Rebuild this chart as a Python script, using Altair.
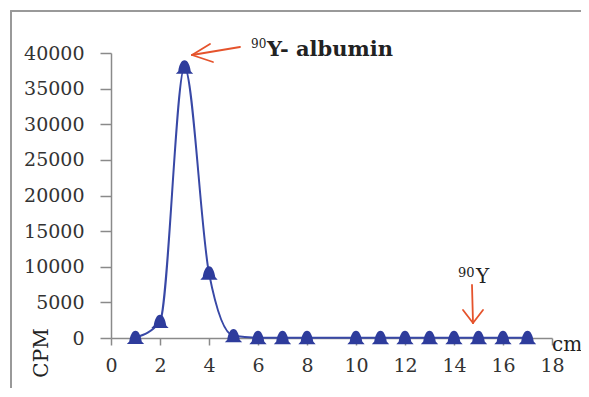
import altair as alt
import pandas as pd

# ---- data ----
cm = [1, 2, 3, 4, 5, 6, 7, 8, 10, 11, 12, 13, 14, 15, 16, 17]
cpm = [60, 2300, 38000, 9100, 300, 50, 50, 50, 50, 50, 50, 50, 50, 50, 50, 50]
x_ticks = list(range(0, 19, 2))
y_ticks = list(range(0, 40001, 5000))

df = pd.DataFrame({"cm": cm, "cpm": cpm})

BLUE_LINE = "#3848A6"
BLUE_MARK = "#2E3C9C"
RED = "#E5532C"
GRAY = "#8A8A8A"
TXT = "#333333"
FONT = "DejaVu Serif"

W, H = 441, 285

xs = alt.Scale(domain=[0, 18], nice=False, zero=False)
ys = alt.Scale(domain=[0, 40000], nice=False)

x_axis = alt.Axis(values=x_ticks, title=None, grid=False, domainColor=GRAY, domainWidth=1.5,
                  tickColor=GRAY, tickWidth=1.5, tickSize=7, labelFont=FONT, labelFontSize=19,
                  labelColor=TXT, labelPadding=11, labelFlush=False, labelOverlap=False,
                  format="d")
y_axis = alt.Axis(values=y_ticks, title=None, grid=False, domainColor=GRAY, domainWidth=1.5,
                  tickColor=GRAY, tickWidth=1.5, tickSize=11, labelFont=FONT, labelFontSize=19,
                  labelColor=TXT, labelPadding=16, labelFlush=False, labelOverlap=False,
                  format="d")

X = alt.X("cm:Q", scale=xs, axis=x_axis)
Y = alt.Y("cpm:Q", scale=ys, axis=y_axis)

base = alt.Chart(df)
line = base.mark_line(interpolate="monotone", color=BLUE_LINE, strokeWidth=2).encode(x=X, y=Y)
DOME = "M-1,0.75 L-0.72,0.45 C-0.62,-0.25 -0.38,-0.8 0,-0.8 C0.38,-0.8 0.62,-0.25 0.72,0.45 L1,0.75 Z"
points = base.mark_point(shape=DOME, filled=True, size=300, color=BLUE_MARK, opacity=1).encode(x=X, y=Y)

one = pd.DataFrame({"k": [0]})


def seg(x1, y1, x2, y2, color, width):
    return alt.Chart(one).mark_rule(color=color, strokeWidth=width, strokeCap="round").encode(
        x=alt.value(x1), y=alt.value(y1), x2=alt.value(x2), y2=alt.value(y2)
    )


def txt(s, x, y, size, align="left", baseline="alphabetic", angle=0, weight="normal"):
    return alt.Chart(one).mark_text(text=s, font=FONT, fontSize=size, color="#222222",
                                    align=align, baseline=baseline, angle=angle,
                                    fontWeight=weight).encode(x=alt.value(x), y=alt.value(y))


layers = [
    # outer frame (top & left)
    seg(-100, -42, -100, 400, "#999999", 2),
    seg(-100, -42, 600, -42, "#999999", 2),
    line,
    points,
    # arrow to the albumin peak
    seg(129, -6, 81, 2, RED, 1.8),
    seg(81, 2, 99, -9, RED, 1.8),
    seg(81, 2, 102, 9, RED, 1.8),
    # arrow to free 90Y
    seg(361, 232, 362, 270, RED, 1.8),
    seg(362, 270, 352, 257, RED, 1.8),
    seg(362, 270, 372, 257, RED, 1.8),
    # texts
    txt("90", 140, -5, 12),
    txt("Y- albumin", 156, 3, 21, weight="bold"),
    txt("90", 347, 224, 13),
    txt("Y", 365, 230, 20),
    txt("cm", 441, 292, 20, baseline="middle"),
    txt("CPM", -69, 300, 20, align="center", baseline="middle", angle=270),
]

chart = alt.layer(*layers).properties(
    width=W, height=H,
    autosize=alt.AutoSizeParams(type="none"),
    padding={"left": 103, "top": 45, "right": 29, "bottom": 50},
).configure_view(stroke=None)

chart.save("out.html", embed_options={"renderer": "svg", "actions": False})
